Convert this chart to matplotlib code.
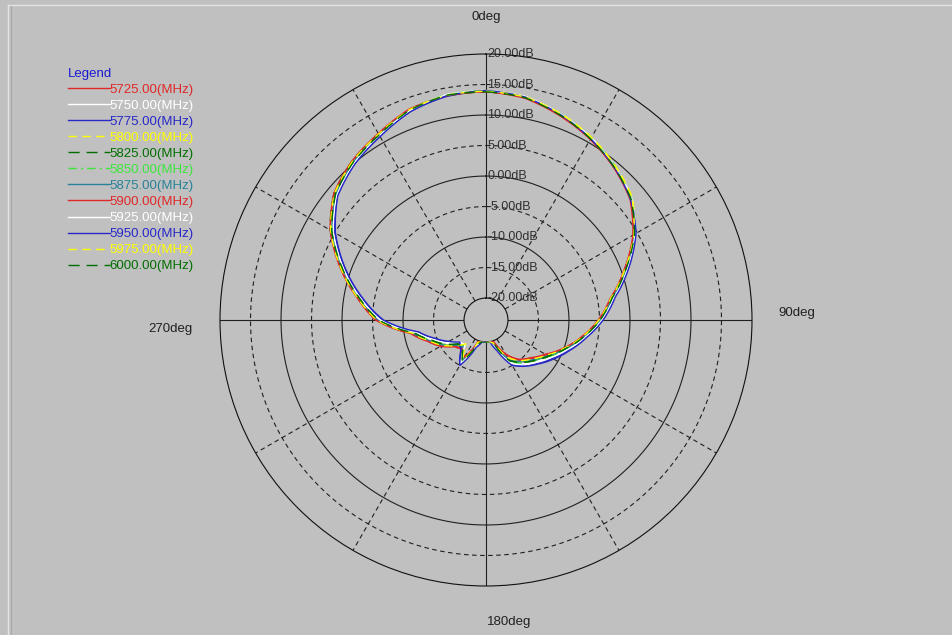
import matplotlib
matplotlib.use('Agg')
from matplotlib import pyplot as plt
from matplotlib.lines import Line2D
import numpy as np

# angles of the measured points (deg, clockwise from 0deg at top)
angles = list(range(0, 360, 10))

freq_labels = ['5725.00(MHz)', '5750.00(MHz)', '5775.00(MHz)', '5800.00(MHz)',
               '5825.00(MHz)', '5850.00(MHz)', '5875.00(MHz)', '5900.00(MHz)',
               '5925.00(MHz)', '5950.00(MHz)', '5975.00(MHz)', '6000.00(MHz)']

# gain in dB, one list per frequency
g5725 = [13.8, 13.4, 12.0, 10.6, 9.0, 7.3, 4.3, 0.6, -2.8, -5.1, -7.6, -10.0, -12.2, -13.8, -15.0, -17.2, -19.6, -20.0,
         -20.0, -20.0, -19.8, -16.4, -17.6, -17.0, -15.2, -13.6, -11.2, -5.6, -2.2, 1.8, 5.8, 8.8, 10.4, 11.6, 13.1, 13.7]
g5750 = [14.0, 13.6, 12.3, 10.9, 9.3, 7.6, 4.6, 1.0, -2.4, -4.7, -7.2, -9.5, -11.5, -13.0, -14.2, -15.5, -18.6, -20.0,
         -20.0, -20.0, -19.4, -15.6, -18.2, -17.8, -16.0, -14.2, -11.8, -6.2, -2.6, 1.4, 5.4, 8.4, 10.1, 11.3, 12.9, 13.9]
g5775 = [13.9, 13.4, 12.1, 10.7, 9.1, 7.4, 4.7, 1.2, -2.2, -4.5, -7.0, -9.2, -11.0, -12.6, -13.9, -15.2, -18.4, -20.0,
         -20.0, -20.0, -19.0, -15.2, -17.4, -17.9, -16.4, -14.6, -12.2, -6.6, -3.0, 1.0, 5.0, 8.2, 9.9, 11.2, 12.8, 13.6]
g5800 = [13.9, 13.6, 12.4, 11.0, 9.4, 7.7, 4.4, 0.7, -2.7, -5.0, -7.5, -9.9, -12.0, -13.6, -14.8, -16.3, -19.3, -20.0,
         -20.0, -20.0, -19.6, -16.0, -18.4, -17.3, -15.5, -13.8, -11.4, -5.8, -2.3, 1.7, 5.7, 8.7, 10.3, 11.5, 13.0, 13.8]
g5825 = [13.8, 13.5, 12.2, 10.8, 9.2, 7.5, 4.6, 0.9, -2.5, -4.8, -7.3, -9.7, -11.7, -13.2, -14.6, -16.0, -19.2, -20.0,
         -20.0, -20.0, -19.3, -15.9, -17.8, -17.6, -15.8, -14.1, -11.7, -6.1, -2.4, 1.6, 5.9, 8.9, 10.5, 11.6, 13.0, 13.7]
g5850 = [14.0, 13.5, 12.3, 10.9, 9.3, 7.5, 4.5, 0.8, -2.6, -4.9, -7.4, -9.6, -11.6, -13.4, -14.4, -15.6, -18.8, -20.0,
         -20.0, -20.0, -19.6, -15.7, -18.1, -17.4, -15.6, -13.9, -11.5, -5.9, -2.4, 1.6, 5.6, 8.6, 10.3, 11.5, 13.1, 13.9]
g5875 = [13.9, 13.5, 12.2, 10.8, 9.1, 7.4, 4.5, 0.9, -2.5, -4.9, -7.4, -9.8, -11.9, -13.5, -14.7, -16.1, -19.4, -20.0,
         -20.0, -20.0, -19.7, -16.2, -17.9, -17.2, -15.4, -13.7, -11.3, -5.9, -2.5, 1.5, 5.5, 8.5, 10.2, 11.4, 13.0, 13.8]
g5900 = [13.8, 13.3, 12.0, 10.6, 9.0, 7.2, 4.2, 0.5, -2.9, -5.2, -7.7, -10.1, -12.4, -14.0, -15.2, -17.0, -19.8, -20.0,
         -20.0, -20.0, -19.9, -16.6, -17.4, -16.8, -15.0, -13.4, -11.0, -5.5, -2.1, 1.9, 5.9, 8.9, 10.5, 11.7, 13.2, 13.7]
g5925 = [13.9, 13.6, 12.3, 10.9, 9.2, 7.5, 4.6, 1.1, -2.3, -4.6, -7.1, -9.4, -11.3, -12.8, -14.0, -15.4, -18.5, -20.0,
         -20.0, -20.0, -19.2, -15.4, -18.3, -18.0, -16.2, -14.4, -12.0, -6.3, -2.7, 1.3, 5.3, 8.3, 10.0, 11.3, 12.9, 13.9]
g5950 = [14.0, 13.5, 12.2, 10.7, 9.1, 7.3, 4.8, 1.3, -2.1, -4.4, -6.9, -9.0, -10.8, -12.4, -13.7, -15.0, -18.2, -20.0,
         -20.0, -20.0, -18.8, -15.0, -17.2, -18.0, -16.6, -14.8, -12.4, -6.8, -3.1, 0.9, 4.9, 8.1, 9.8, 11.1, 12.7, 13.7]
g5975 = [13.9, 13.5, 12.3, 10.9, 9.3, 7.6, 4.4, 0.6, -2.8, -5.1, -7.6, -10.0, -12.1, -13.7, -14.9, -16.5, -19.5, -20.0,
         -20.0, -20.0, -19.7, -16.1, -18.5, -17.1, -15.3, -13.7, -11.3, -5.7, -2.2, 1.8, 5.8, 8.8, 10.4, 11.6, 13.1, 13.8]
g6000 = [13.8, 13.4, 12.1, 10.7, 9.1, 7.4, 4.5, 0.8, -2.6, -4.9, -7.4, -9.8, -11.8, -13.3, -14.5, -15.9, -19.1, -20.0,
         -20.0, -20.0, -19.4, -15.8, -17.9, -17.5, -15.7, -14.0, -11.6, -6.0, -2.5, 1.5, 5.6, 8.6, 10.2, 11.4, 13.0, 13.8]

gains = [g5725, g5750, g5775, g5800, g5825, g5850, g5875, g5900, g5925, g5950, g5975, g6000]

colors = ['#e02828', '#ffffff', '#2828c8', '#ffff00', '#006e00', '#3ce63c',
          '#28829a', '#e02828', '#ffffff', '#2828c8', '#ffff00', '#006e00']
styles = ['-', '-', '-', (0, (6, 4)), (0, (8, 5)), (0, (6, 3, 1.5, 3)),
          '-', '-', '-', '-', (0, (6, 4)), (0, (8, 5))]

ring_values = [20, 15, 10, 5, 0, -5, -10, -15, -20]
ring_labels = ['20.00dB', '15.00dB', '10.00dB', '5.00dB', '0.00dB',
               '-5.00dB', '-10.00dB', '-15.00dB', '-20.00dB']


def main():
    W, H = 953, 635
    plt.rcParams['font.family'] = ['Liberation Sans', 'DejaVu Sans']
    plt.rcParams['lines.scale_dashes'] = False
    bg = '#c0c0c0'

    fig = plt.figure(figsize=(W / 100, H / 100), dpi=100, facecolor=bg)

    # polar area: centre (486, 320) px, outer radius 266 px
    cx, cy, R = 486, 320, 266
    ax = fig.add_axes([(cx - R) / W, (H - cy - R) / H, 2 * R / W, 2 * R / H], projection='polar')
    ax.set_facecolor(bg)
    ax.set_theta_zero_location('N')
    ax.set_theta_direction(-1)
    ax.set_ylim(-20, 20)
    ax.set_rorigin(-23.6)
    ax.grid(False)
    ax.set_xticks([])
    ax.set_yticks([])
    for name in ['polar', 'inner']:
        ax.spines[name].set_color('#101010')
        ax.spines[name].set_linewidth(0.8)

    grid_c = '#202020'
    dash = (0, (3.3, 2.5))
    th = np.linspace(0, 2 * np.pi, 400)
    for r in ring_values[1:-1]:
        ax.plot(th, np.full_like(th, r), color=grid_c, lw=0.8,
                ls='-' if r % 10 == 0 else dash, zorder=1)
    for a in range(0, 360, 30):
        t = np.deg2rad(a)
        ax.plot([t, t], [-20, 20], color=grid_c, lw=0.8,
                ls='-' if a % 90 == 0 else dash, zorder=1)

    for r, lab in zip(ring_values, ring_labels):
        ax.annotate(lab, xy=(0, r), xytext=(1, 0), textcoords='offset points',
                    ha='left', va='center', fontsize=9, color='#303030', zorder=2)

    theta = np.deg2rad(angles + [360])
    handles = []
    for g, c, s, lab in zip(gains, colors, styles, freq_labels):
        line, = ax.plot(theta, g + [g[0]], color=c, lw=1.0, ls=s, label=lab, zorder=3)
        # let the polar transform draw each segment as a curve
        line.get_path()._interpolation_steps = 10
        handles.append(line)

    leg = fig.legend(handles=handles, loc='upper left', bbox_to_anchor=(61 / W, 1 - 61 / H),
                     frameon=False, title='Legend', alignment='left', fontsize=9.5,
                     title_fontsize=9.5, handlelength=3.2, handletextpad=0.0,
                     labelspacing=0.29, borderpad=0, labelcolor='linecolor')
    leg.get_title().set_color('#1a1ad0')

    txt = dict(fontsize=9.5, color='#202020', ha='center', va='center')
    fig.text(486 / W, 1 - 17 / H, '0deg', **txt)
    fig.text(509 / W, 1 - 622 / H, '180deg', **txt)
    fig.text(170 / W, 1 - 329 / H, '270deg', **txt)
    fig.text(797 / W, 1 - 313 / H, '90deg', **txt)

    # window frame
    fig.add_artist(Line2D([8 / W, 1], [1 - 4.5 / H] * 2, color='#e4e4e4', lw=1, transform=fig.transFigure))
    fig.add_artist(Line2D([8.5 / W] * 2, [0, 1 - 4.5 / H], color='#e4e4e4', lw=1, transform=fig.transFigure))
    fig.add_artist(Line2D([10.5 / W] * 2, [0, 1 - 6 / H], color='#a8a8a8', lw=0.8, transform=fig.transFigure))

    fig.savefig('out.png', dpi=100, facecolor=bg)


if __name__ == '__main__':
    main()
